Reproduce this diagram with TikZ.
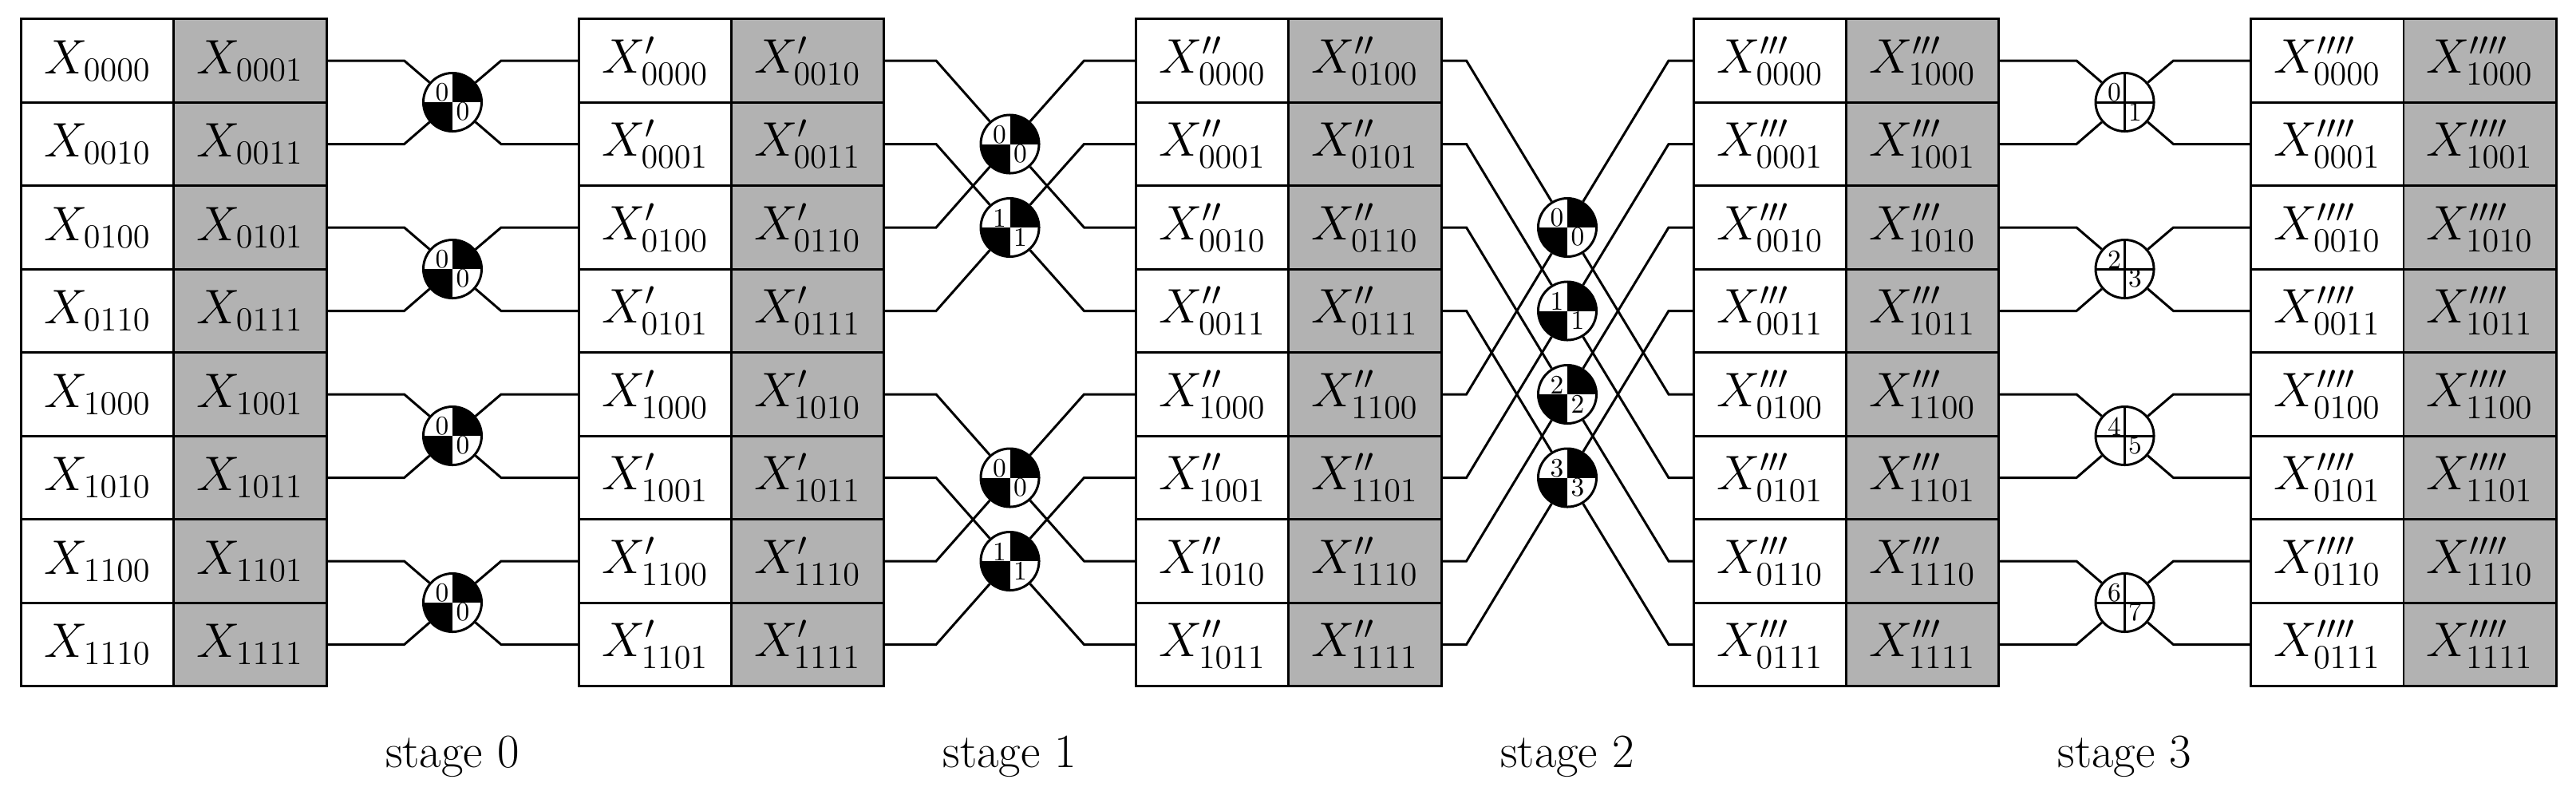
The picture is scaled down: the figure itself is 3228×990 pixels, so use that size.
\documentclass[tikz,border=0pt]{standalone}
\begin{document}
\begin{tikzpicture}[x=0.01cm,y=-0.01cm,line width=0.85pt,
  cell/.style={draw,minimum width=1.91cm,minimum height=1.045cm,inner sep=0pt,
    font=\fontsize{17}{20}\selectfont},
  gcell/.style={cell,fill=black!30},
  bfly/.style={circle,draw,fill=white,minimum size=0.73cm,inner sep=0pt,
    path picture={\fill[black] (path picture bounding box.center) rectangle (path picture bounding box.north east);
      \fill[black] (path picture bounding box.center) rectangle (path picture bounding box.south west);}},
  cross/.style={circle,draw,fill=white,minimum size=0.73cm,inner sep=0pt,
    path picture={\draw (path picture bounding box.north) -- (path picture bounding box.south);
      \draw (path picture bounding box.west) -- (path picture bounding box.east);}},
  qlab/.style={inner sep=0pt,font=\fontsize{9.5}{10}\selectfont},
  stagelab/.style={font=\fontsize{17}{20}\selectfont}]
\useasboundingbox (0,0) rectangle (3228,990);

% storage blocks
\foreach \i/\p in {0/,1/',2/'',3/''',4/''''}{
  \pgfmathsetmacro\bx{27+698.5*\i}
  \ifcase\i
    \def\Llist{0000,0010,0100,0110,1000,1010,1100,1110}\def\Rlist{0001,0011,0101,0111,1001,1011,1101,1111}\or
    \def\Llist{0000,0001,0100,0101,1000,1001,1100,1101}\def\Rlist{0010,0011,0110,0111,1010,1011,1110,1111}\or
    \def\Llist{0000,0001,0010,0011,1000,1001,1010,1011}\def\Rlist{0100,0101,0110,0111,1100,1101,1110,1111}\else
    \def\Llist{0000,0001,0010,0011,0100,0101,0110,0111}\def\Rlist{1000,1001,1010,1011,1100,1101,1110,1111}\fi
  \foreach \t [count=\r from 0] in \Llist
    \node[cell] (b\i l\r) at (\bx+95.5,76+104.5*\r) {$X\p_{\t}$};
  \foreach \t [count=\r from 0] in \Rlist
    \node[gcell] (b\i r\r) at (\bx+286.5,76+104.5*\r) {$X\p_{\t}$};
}

% butterflies
\foreach \s in {0,1,2,3}{
  \pgfmathsetmacro\cx{27+698.5*\s+382+158}
  \foreach \k in {0,1,2,3}{
    \ifcase\s
      \pgfmathsetmacro\cy{128+209*\k}\or
      \pgfmathsetmacro\cy{76+104.5*(4*int(\k/2)+1+mod(\k,2))}\or
      \pgfmathsetmacro\cy{76+104.5*(2+\k)}\else
      \pgfmathsetmacro\cy{128+209*\k}\fi
    \ifnum\s=3
      \node[cross] (s\s c\k) at (\cx,\cy) {};
      \pgfmathtruncatemacro\la{2*\k}\pgfmathtruncatemacro\lb{2*\k+1}
    \else
      \node[bfly] (s\s c\k) at (\cx,\cy) {};
      \ifcase\s \def\la{0}\def\lb{0}\or
        \pgfmathtruncatemacro\la{mod(\k,2)}\let\lb\la\else
        \def\la{\k}\def\lb{\k}\fi
    \fi
    \node[qlab] at ([shift={(-0.13cm,0.12cm)}]s\s c\k.center) {\la};
    \node[qlab] at ([shift={(0.13cm,-0.12cm)}]s\s c\k.center) {\lb};
  }
  \pgfmathtruncatemacro\n{\s+1}
  \ifcase\s \def\kd{96}\or \def\kd{64}\or \def\kd{30}\else \def\kd{96}\fi
  \foreach \r in {0,...,7}{
    \ifcase\s
      \pgfmathtruncatemacro\c{int(\r/2)}\or
      \pgfmathtruncatemacro\c{2*int(\r/4)+mod(\r,2)}\or
      \pgfmathtruncatemacro\c{mod(\r,4)}\else
      \pgfmathtruncatemacro\c{int(\r/2)}\fi
    \draw (b\s r\r.east) -- ++(\kd,0) -- (s\s c\c);
    \draw (b\n l\r.west) -- ++(-\kd,0) -- (s\s c\c);
  }
  \node[stagelab] (st\s) at (\cx,948) {stage \s};
}
\end{tikzpicture}
\end{document}
